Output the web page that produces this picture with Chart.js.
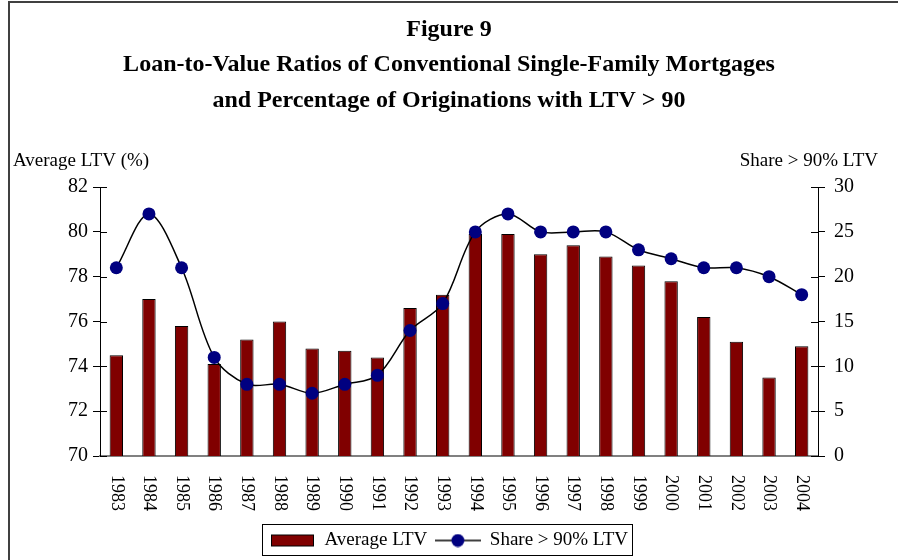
<!DOCTYPE html>
<html>
<head>
<meta charset="utf-8">
<script src="https://cdn.jsdelivr.net/npm/chart.js@4"></script>
<style>
  html, body { margin: 0; padding: 0; background: #fff; }
  #wrap { width: 898px; height: 560px; }
</style>
</head>
<body>
<div id="wrap"><canvas id="ltvChart"></canvas></div>
<script>
const years = ["1983", "1984", "1985", "1986", "1987", "1988", "1989", "1990", "1991", "1992", "1993",
               "1994", "1995", "1996", "1997", "1998", "1999", "2000", "2001", "2002", "2003", "2004"];
const avgLtv = [74.5, 77.0, 75.8, 74.1, 75.2, 76.0, 74.8, 74.7, 74.4, 76.6, 77.2,
                79.9, 79.9, 79.0, 79.4, 78.9, 78.5, 77.8, 76.2, 75.1, 73.5, 74.9];
const shareOver90 = [21, 27, 21, 11, 8, 8, 7, 8, 9, 14, 17,
                     25, 27, 25, 25, 25, 23, 22, 21, 21, 20, 18];
const titleLines = ["Figure 9",
                    "Loan-to-Value Ratios of Conventional Single-Family Mortgages",
                    "and Percentage of Originations with LTV > 90"];

const serif = "'Liberation Serif', 'Times New Roman', serif";
const barRed = '#800000';
const dotBlue = '#000080';

// legend swatches
function makeBarSwatch() {
    const c = document.createElement('canvas');
    c.width = 45; c.height = 14;
    const g = c.getContext('2d');
    g.fillStyle = barRed;
    g.fillRect(1, 1, 43, 12);
    g.strokeStyle = '#000';
    g.lineWidth = 1;
    g.strokeRect(1.5, 1.5, 42, 11);
    return c;
}
function makeLineSwatch() {
    const c = document.createElement('canvas');
    c.width = 46; c.height = 14;
    const g = c.getContext('2d');
    g.strokeStyle = '#000';
    g.lineWidth = 1.5;
    g.beginPath(); g.moveTo(0, 7); g.lineTo(46, 7); g.stroke();
    g.fillStyle = dotBlue;
    g.beginPath(); g.arc(23, 7, 6.5, 0, Math.PI * 2); g.fill();
    return c;
}
const barSwatch = makeBarSwatch();
const lineSwatch = makeLineSwatch();

const decorPlugin = {
    id: 'decor',
    beforeDraw(chart) {
        const ctx = chart.ctx;
        ctx.save();
        ctx.fillStyle = '#fff';
        ctx.fillRect(0, 0, chart.width, chart.height);
        ctx.strokeStyle = '#404040';
        ctx.lineWidth = 2;
        ctx.beginPath();
        ctx.moveTo(9, chart.height);
        ctx.lineTo(9, 2);
        ctx.lineTo(chart.width, 2);
        ctx.stroke();
        ctx.restore();
    },
    afterDraw(chart) {
        const ctx = chart.ctx;
        const area = chart.chartArea;
        const x = chart.scales.x, y = chart.scales.y, y1 = chart.scales.y1;
        ctx.save();
        // axis titles above the axes
        ctx.font = '19px ' + serif;
        ctx.fillStyle = '#000';
        ctx.textBaseline = 'middle';
        ctx.textAlign = 'left';
        ctx.fillText('Average LTV (%)', 13, area.top - 26);
        ctx.textAlign = 'right';
        ctx.fillText('Share > 90% LTV', 878, area.top - 26);
        // inner half of the crossing tick marks
        ctx.strokeStyle = '#000';
        ctx.lineWidth = 1;
        y.ticks.forEach((t, i) => {
            const py = Math.round(y.getPixelForTick(i)) + 0.5;
            ctx.beginPath(); ctx.moveTo(area.left, py); ctx.lineTo(area.left + 7, py); ctx.stroke();
        });
        y1.ticks.forEach((t, i) => {
            const py = Math.round(y1.getPixelForTick(i)) + 0.5;
            ctx.beginPath(); ctx.moveTo(area.right - 7, py); ctx.lineTo(area.right, py); ctx.stroke();
        });
        // year labels, rotated clockwise
        ctx.font = '18px ' + serif;
        ctx.textAlign = 'left';
        ctx.textBaseline = 'middle';
        years.forEach((label, i) => {
            const px = x.getPixelForValue(i);
            ctx.save();
            ctx.translate(px, x.top + 19);
            ctx.rotate(Math.PI / 2);
            ctx.fillText(label, 0, 0);
            ctx.restore();
        });
        // legend frame
        const boxes = chart.legend.legendHitBoxes;
        if (boxes && boxes.length) {
            const first = boxes[0], last = boxes[boxes.length - 1];
            const left = first.left - 8, right = last.left + last.width + 4;
            const top = first.top - 7, bottom = first.top + first.height + 5;
            ctx.strokeStyle = '#000';
            ctx.lineWidth = 1;
            ctx.strokeRect(Math.round(left) + 0.5, Math.round(top) + 0.5, Math.round(right - left), Math.round(bottom - top));
        }
        ctx.restore();
    }
};

const ctx = document.getElementById('ltvChart').getContext('2d');
new Chart(ctx, {
    type: 'bar',
    data: {
        labels: years,
        datasets: [
            {
                type: 'line',
                label: 'Share > 90% LTV',
                data: shareOver90,
                yAxisID: 'y1',
                borderColor: '#000',
                borderWidth: 1.5,
                tension: 0.33,
                pointRadius: 6.5,
                pointBackgroundColor: dotBlue,
                pointBorderColor: dotBlue,
                pointBorderWidth: 0,
                order: 0
            },
            {
                type: 'bar',
                label: 'Average LTV',
                data: avgLtv,
                yAxisID: 'y',
                backgroundColor: barRed,
                borderColor: '#000',
                borderWidth: 1,
                categoryPercentage: 1,
                barPercentage: 0.41,
                order: 1
            }
        ]
    },
    options: {
        responsive: true,
        maintainAspectRatio: false,
        animation: false,
        layout: { padding: 0 },
        plugins: {
            title: {
                display: true,
                text: titleLines,
                color: '#000',
                font: { family: serif, size: 24, weight: 'bold', lineHeight: 1.48 },
                padding: { top: 12, bottom: 68.5 }
            },
            legend: {
                position: 'bottom',
                labels: {
                    usePointStyle: true,
                    pointStyleWidth: 45,
                    boxHeight: 14,
                    padding: 8,
                    color: '#000',
                    font: { family: serif, size: 19 },
                    generateLabels: () => [
                        { text: 'Average LTV', pointStyle: barSwatch, fillStyle: barRed, strokeStyle: '#000', lineWidth: 0, datasetIndex: 1 },
                        { text: 'Share > 90% LTV', pointStyle: lineSwatch, fillStyle: dotBlue, strokeStyle: '#000', lineWidth: 0, datasetIndex: 0 }
                    ]
                }
            },
            tooltip: { enabled: false }
        },
        scales: {
            x: {
                offset: true,
                grid: { display: false },
                border: { display: true, color: '#808080', width: 2 },
                ticks: { display: false },
                afterFit: s => { s.height = 67; }
            },
            y: {
                position: 'left',
                min: 70,
                max: 82,
                ticks: { stepSize: 2, color: '#000', padding: 5, font: { family: serif, size: 20 } },
                grid: { drawOnChartArea: false, tickLength: 7, color: '#000' },
                border: { display: true, color: '#000', width: 1 },
                afterFit: s => { s.width = 100; }
            },
            y1: {
                position: 'right',
                min: 0,
                max: 30,
                ticks: { stepSize: 5, color: '#000', padding: 9, font: { family: serif, size: 20 } },
                grid: { drawOnChartArea: false, tickLength: 7, color: '#000' },
                border: { display: true, color: '#000', width: 1 },
                afterFit: s => { s.width = 80; }
            }
        }
    },
    plugins: [decorPlugin]
});
</script>
</body>
</html>
